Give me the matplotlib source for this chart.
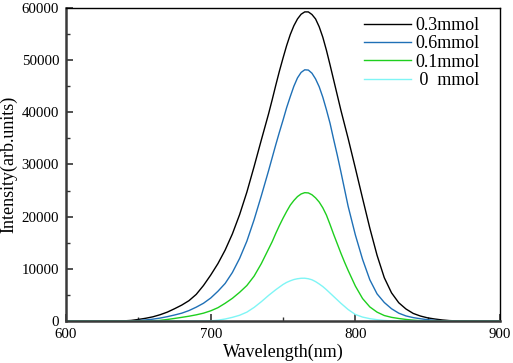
import numpy as np
import matplotlib
matplotlib.use('Agg')
import matplotlib.pyplot as plt
from matplotlib.ticker import MultipleLocator

# Wavelength grid (nm): 5 nm steps, 2.5 nm around the peak
wl_left = [600, 605, 610, 615, 620, 625, 630, 635, 640, 645, 650, 655, 660, 665,
           670, 675, 680, 685, 690, 695, 700, 705, 710, 715, 720, 725, 730, 735]
wl_mid = [740, 742.5, 745, 747.5, 750, 752.5, 755, 757.5, 760, 762.5, 765,
          767.5, 770, 772.5, 775, 777.5, 780, 782.5, 785, 787.5, 790, 792.5]
wl_right = [795, 800, 805, 810, 815, 820, 825, 830, 835, 840, 845,
            850, 855, 860, 865, 870, 875, 880, 885, 890, 895, 900]
wavelength = wl_left + wl_mid + wl_right

# Intensities
i_03 = ([0, 0, 0, 0, 0, 0, 0, 0,
         30, 110, 300, 520, 800, 1200, 1700, 2350, 3050, 3900, 5100, 6800,
         8800, 11000, 13600, 16700, 20400, 24700, 29600, 34700]
        + [39700, 42400, 45200, 47900, 50400, 52800, 54900, 56600, 57900, 58800, 59250,
           59250, 58750, 57900, 56400, 54400, 51900, 49100, 46200, 43300, 40400, 37700]
        + [35000, 29300, 23500, 17800, 12600, 8300, 5400, 3500, 2300, 1450, 950,
           600, 380, 200, 80, 20, 0, 0, 0, 0, 0, 0])
i_06 = ([0, 0, 0, 0, 0, 0, 0, 0, 0,
         20, 80, 200, 350, 560, 830, 1150, 1500, 2000, 2650, 3400,
         4400, 5700, 7200, 9300, 12000, 15300, 19400, 24000]
        + [28800, 31300, 33800, 36200, 38500, 40900, 43000, 45000, 46600, 47650, 48150,
           48100, 47500, 46400, 44900, 42900, 40500, 37900, 34800, 31800, 28600, 25300]
        + [22000, 16500, 11800, 7900, 5200, 3550, 2350, 1500, 970, 650, 430,
           250, 120, 40, 0, 0, 0, 0, 0, 0, 0, 0])
i_01 = ([0, 0, 0, 0, 0, 0, 0, 0, 0, 0, 0, 0,
         20, 120, 290, 490, 700, 920, 1180, 1500,
         1950, 2550, 3400, 4350, 5500, 6800, 8600, 11000]
        + [13800, 15200, 16800, 18300, 19700, 21000, 22200, 23100, 23850, 24350, 24600,
           24550, 24200, 23600, 22800, 21700, 20300, 18500, 16600, 14800, 13000, 11300]
        + [9700, 6700, 4300, 2700, 1700, 1050, 700, 480, 300, 160, 60,
           0, 0, 0, 0, 0, 0, 0, 0, 0, 0, 0])
i_0 = ([0] * 20 + [30, 150, 380, 700, 1100, 1700, 2600, 3700]
       + [4900, 5450, 6000, 6500, 7000, 7400, 7700, 7950, 8100, 8190, 8200,
          8100, 7900, 7550, 7100, 6600, 6000, 5350, 4700, 4050, 3400, 2800]
       + [2200, 1250, 750, 450, 250, 110, 30] + [0] * 15)

labels = ['0.3mmol', '0.6mmol', '0.1mmol', ' 0  mmol']
colors = ['black', '#1f70b6', '#1ecf1e', '#7ff5f5']

plt.rcParams['font.family'] = ['Liberation Serif', 'DejaVu Serif']

fig = plt.figure(figsize=(5.13, 3.63), dpi=100)
ax = fig.add_axes([0.1287, 0.1157, 0.846, 0.8623])

for y, lab, c in zip([i_03, i_06, i_01, i_0], labels, colors):
    ax.plot(wavelength, y, color=c, lw=1.0, label=lab)

ax.set_xlim(600, 900)
ax.set_ylim(0, 60000)
ax.xaxis.set_major_locator(MultipleLocator(100))
ax.xaxis.set_minor_locator(MultipleLocator(50))
ax.yaxis.set_major_locator(MultipleLocator(10000))
ax.yaxis.set_minor_locator(MultipleLocator(5000))

ax.tick_params(which='both', direction='in', top=False, right=False,
               labelsize=10.7, color='#333333')
ax.tick_params(which='major', length=5, width=1.2, pad=5)
ax.tick_params(which='minor', length=3, width=1.0)

# Thick left/bottom spines, thin top/right
for side in ['left', 'bottom']:
    ax.spines[side].set_linewidth(1.8)
    ax.spines[side].set_color('#3a3a3a')
for side in ['top', 'right']:
    ax.spines[side].set_linewidth(1.0)
    ax.spines[side].set_color('black')

ax.set_xlabel('Wavelength(nm)', fontsize=13, labelpad=2)
ax.set_ylabel('Intensity(arb.units)', fontsize=13, labelpad=3)

ax.legend(loc='upper right', frameon=False, fontsize=13, handlelength=2.6,
          handletextpad=0.25, labelspacing=0.08, borderaxespad=0.3,
          bbox_to_anchor=(0.982, 1.012))

fig.savefig('out.png', dpi=100)
